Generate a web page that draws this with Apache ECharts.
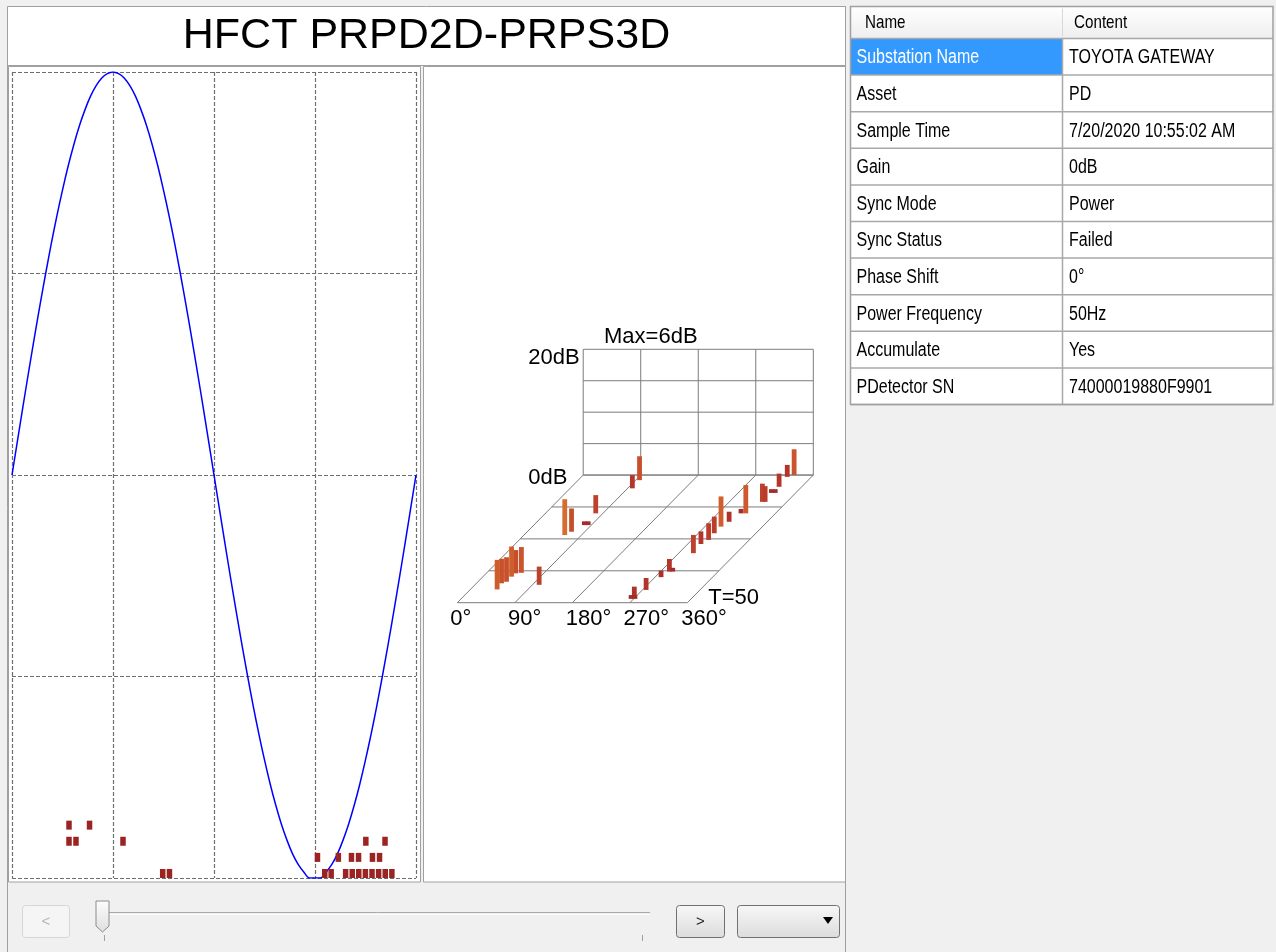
<!DOCTYPE html>
<html><head><meta charset="utf-8">
<script src="https://cdn.jsdelivr.net/npm/echarts@6.0.0/dist/echarts.min.js"></script>
<style>html,body{margin:0;padding:0;background:#f0f0f0;}#c{width:1276px;height:952px;}</style>
</head><body><div id="c"></div>
<script>
// ---------- data ----------
const PHASE_DEG = [0,5,10,15,20,25,30,35,40,45,50,55,60,65,70,75,80,85,90,95,100,105,110,115,120,125,130,135,140,145,150,155,160,165,170,175,180,
  185,190,195,200,205,210,215,220,225,230,235,240,245,250,255,260,265,270,275,280,285,290,295,300,305,310,315,320,325,330,335,340,345,350,355,360];
const SINE_REF = [0,0.087,0.174,0.259,0.342,0.423,0.5,0.574,0.643,0.707,0.766,0.819,0.866,0.906,0.940,0.966,0.985,0.996,1,
  0.996,0.985,0.966,0.940,0.906,0.866,0.819,0.766,0.707,0.643,0.574,0.5,0.423,0.342,0.259,0.174,0.087,0,
  -0.087,-0.174,-0.259,-0.342,-0.423,-0.5,-0.574,-0.643,-0.707,-0.766,-0.819,-0.866,-0.906,-0.940,-0.966,-0.985,-1,-1,
  -1,-0.985,-0.966,-0.940,-0.906,-0.866,-0.819,-0.766,-0.707,-0.643,-0.574,-0.5,-0.423,-0.342,-0.259,-0.174,-0.087,0];

// PRPD 2D pulses: phase (deg) and amplitude level
const PRPD_PHASE = [134.3,140.3,278.7,284.4,297.3,303.2,309.0,314.9,320.8,326.7,332.6,338.5,
  272.2,290.8,302.5,308.8,321.2,327.5,
  50.8,57.0,98.9,315.3,332.4,
  50.8,69.1];
const PRPD_LEVEL = [0,0,0,0,0,0,0,0,0,0,0,0,
  1,1,1,1,1,1,
  2,2,2,2,2,
  3,3];

// PRPS 3D pulses: phase (deg), cycle T, amplitude (dB)
const PRPS_PHASE = [41.8,39.3,44.7,44.7,46.3,54.2,100.5,63.7,69.2,78.7,79,85,97.4,96,
  266,272,268.7,275.7,279.4,283.8,289,293,290.6,296.3,294.9,295.2,300.4,313.5,306,321.7,326,322,328,324.6,322,330];
const PRPS_CYCLE = [44.8,42.4,41.8,39.8,38.5,38.3,43,23.5,22.2,15,19.6,19.6,5.2,2,
  48.5,48.5,47.9,45,40,37.8,37.8,30.6,27,25.4,22.8,20.2,18.3,15,15,10.5,10.5,7,7,4.6,0.7,0];
const PRPS_DB = [4.7,3.9,3.9,4.8,3.7,4.1,2.9,5.7,3.7,2.9,0.6,0.6,2.1,3.8,
  0.6,0.6,1.7,1.9,1.05,2.0,0.6,2.9,2.0,2.65,2.65,4.8,1.6,4.5,0.7,2.9,2.5,0.6,0.6,2.1,1.9,4.1];

const PHASE_TICKS = [0,90,180,270,360];
const CYCLE_TICKS = [0,12.5,25,37.5,50];
const DB_TICKS = [0,5,10,15,20];
const T_MAX = 50, DB_MAX = 20, PHASE_MAX = 360;

const TABLE_NAMES = ['Substation Name','Asset','Sample Time','Gain','Sync Mode','Sync Status','Phase Shift','Power Frequency','Accumulate','PDetector SN'];
const TABLE_CONTENTS = ['TOYOTA GATEWAY','PD','7/20/2020 10:55:02 AM','0dB','Power','Failed','0°','50Hz','Yes','74000019880F9901'];

// ---------- projection (oblique 3D) in axis units ----------
const DEPTH_X = 197;   // phase units shift for full depth
const DEPTH_Y = 20.3;  // dB units shift for full depth
function proj(api, phase, t, db) {
  const f = 1 - t / T_MAX;
  return api.coord([phase + f * DEPTH_X, db + f * DEPTH_Y]);
}
const LINE_STYLE = {stroke:'#7c7c7c', lineWidth:1};

const sineData = PHASE_DEG.map((p, i) => [p, SINE_REF[i]]);
const prpdData = PRPD_PHASE.map((p, i) => [p, PRPD_LEVEL[i]]);
const prpsData = PRPS_PHASE.map((p, i) => [p, PRPS_CYCLE[i], PRPS_DB[i]]).sort((a, b) => a[1] - b[1]);
const maxDb = Math.max.apply(null, PRPS_DB);

const FONT = '"Liberation Sans", Arial, sans-serif';

// ---------- graphic: frames, table, controls ----------
const g = [];
function rect(x, y, w, h, fill, stroke, z, extra) {
  g.push(Object.assign({type:'rect', z: z, silent:true, shape:{x:x, y:y, width:w, height:h}, style:{fill:fill, stroke:stroke || null, lineWidth:1}}, extra || {}));
}
function line(x1, y1, x2, y2, color, z, w) {
  g.push({type:'line', z:z, silent:true, shape:{x1:x1,y1:y1,x2:x2,y2:y2}, style:{stroke:color, lineWidth:w || 1}});
}
function text(str, x, y, size, color, align, z, sx) {
  g.push({type:'text', z:z, silent:true, x:x, y:y, scaleX: sx || 1,
    style:{text:str, x:0, y:0, fontSize:size, fontFamily:FONT, fill:color, align:align || 'left', verticalAlign:'middle', textAlign:align || 'left', textVerticalAlign:'middle'}});
}
// left panel frames
rect(7.5, 6.5, 838, 59, '#ffffff', '#a0a0a0', -5);
rect(8.5, 66.5, 412, 815.5, '#ffffff', '#a0a0a0', -5);
rect(423.5, 66.5, 422, 815.5, '#ffffff', '#a0a0a0', -5);
line(7.5, 65, 7.5, 952, '#a0a0a0', -4);
line(845.5, 6, 845.5, 952, '#a0a0a0', -4);

// table
const TX0 = 850.5, TX1 = 1062.5, TX2 = 1273, HY0 = 6.5, RY0 = 38.5, RH = 36.6;
const tableBottom = RY0 + RH * TABLE_NAMES.length;
g.push({type:'rect', z:5, silent:true, shape:{x:TX0, y:HY0, width:TX2-TX0, height:RY0-HY0},
  style:{fill:new echarts.graphic.LinearGradient(0,0,0,1,[{offset:0,color:'#ffffff'},{offset:1,color:'#eeeeee'}]), stroke:null}});
line(TX1, HY0+2, TX1, RY0-2, '#d8d8d8', 6);
text('Name', 865, 23, 19, '#000', 'left', 7, 0.8);
text('Content', 1074, 23, 19, '#000', 'left', 7, 0.8);
TABLE_NAMES.forEach((n, i) => {
  const y0 = RY0 + i * RH;
  rect(TX0, y0, TX1 - TX0, RH, i === 0 ? '#3399ff' : '#ffffff', null, 5);
  rect(TX1, y0, TX2 - TX1, RH, '#ffffff', null, 5);
  text(n, 856.5, y0 + RH / 2 + 1, 20, i === 0 ? '#ffffff' : '#000000', 'left', 7, 0.8);
  text(TABLE_CONTENTS[i], 1069, y0 + RH / 2 + 1, 20, '#000000', 'left', 7, 0.8);
  line(TX0, y0 + RH, TX2, y0 + RH, '#a8a8a8', 6, 1.5);
});
line(TX0, RY0, TX2, RY0, '#a8a8a8', 6, 1.5);
line(TX1, RY0, TX1, tableBottom, '#a8a8a8', 6, 1.5);
rect(TX0, HY0, TX2 - TX0, tableBottom - HY0, null, '#a0a0a0', 6, {style:{fill:null, stroke:'#a0a0a0', lineWidth:1.5}});

// bottom controls
rect(22.5, 905.5, 47, 32, '#f5f5f5', '#d6d6d6', 5, {shape:{x:22.5,y:905.5,width:47,height:32,r:3}});
text('<', 46, 921.5, 15, '#b4b4b4', 'center', 6);
line(105, 912.5, 650, 912.5, '#a9a9a9', 5);
line(105, 914.5, 650, 914.5, '#fbfbfb', 5);
line(104.5, 935, 104.5, 941, '#a0a0a0', 5);
line(642.5, 935, 642.5, 941, '#a0a0a0', 5);
g.push({type:'polygon', z:6, silent:true, shape:{points:[[96,901],[109,901],[109,926],[102.5,932],[96,926]]},
  style:{fill:new echarts.graphic.LinearGradient(0,0,0,1,[{offset:0,color:'#fdfdfd'},{offset:1,color:'#dedede'}]), stroke:'#8c8c8c', lineWidth:1}});
const btnGrad = () => new echarts.graphic.LinearGradient(0,0,0,1,[{offset:0,color:'#f7f7f7'},{offset:1,color:'#dcdcdc'}]);
g.push({type:'rect', z:5, silent:true, shape:{x:676.5,y:905.5,width:48,height:32,r:3}, style:{fill:btnGrad(), stroke:'#707070', lineWidth:1}});
text('>', 700.5, 921.5, 15, '#222', 'center', 6);
g.push({type:'rect', z:5, silent:true, shape:{x:737.5,y:905.5,width:102,height:32,r:3}, style:{fill:btnGrad(), stroke:'#707070', lineWidth:1}});
g.push({type:'polygon', z:6, silent:true, shape:{points:[[823,917],[833,917],[828,924]]}, style:{fill:'#000'}});

// ---------- chart ----------
const chart = echarts.init(document.getElementById('c'), null, {renderer:'canvas'});
const dashed = {show:true, lineStyle:{color:'#6e6e6e', width:1.2, type:[4,2]}};
const noAxis = {axisLine:{show:false}, axisTick:{show:false}, splitLine:{show:false}};

chart.setOption({
  animation:false,
  backgroundColor:'#f0f0f0',
  title:[
    {text:'HFCT PRPD2D-PRPS3D', left:426.5, top:14.5, textAlign:'center', padding:0,
      textStyle:{fontSize:43, fontWeight:'normal', color:'#000', fontFamily:FONT}},
    {text:'Max=' + Math.round(maxDb) + 'dB', left:650.8, top:326, textAlign:'center', padding:0,
      textStyle:{fontSize:22, fontWeight:'normal', color:'#000', fontFamily:FONT}},
    {text:'T=' + T_MAX, left:708.3, top:587, padding:0,
      textStyle:{fontSize:22, fontWeight:'normal', color:'#000', fontFamily:FONT}}
  ],
  graphic:{elements:g},
  grid:[
    {left:12, top:72, width:404, height:806},
    {left:457.3, top:349.3, width:356, height:253.4},
    {left:450.3, top:590, width:231, height:12.7},
    {left:583.3, top:358, width:229, height:120}
  ],
  xAxis:[
    Object.assign({gridIndex:0, type:'value', min:0, max:PHASE_MAX, interval:90, axisLabel:{show:false}}, noAxis, {splitLine:dashed}),
    {gridIndex:1, type:'value', min:0, max:PHASE_MAX + DEPTH_X, show:false},
    Object.assign({gridIndex:2, type:'value', min:0, max:PHASE_MAX, interval:90,
      axisLabel:{formatter:'{value}°', align:'left', margin:5, fontSize:22, color:'#000', fontFamily:FONT, hideOverlap:false, showMinLabel:true, showMaxLabel:true}}, noAxis),
    {gridIndex:3, type:'value', show:false}
  ],
  yAxis:[
    Object.assign({gridIndex:0, type:'value', min:-1, max:1, interval:0.5, axisLabel:{show:false}}, noAxis, {splitLine:dashed}),
    {gridIndex:0, type:'value', min:0, max:50, show:false},
    {gridIndex:1, type:'value', min:0, max:DB_MAX + DEPTH_Y, show:false},
    {gridIndex:2, type:'value', show:false},
    Object.assign({gridIndex:3, type:'value', min:0, max:DB_MAX, interval:20,
      axisLabel:{formatter:'{value}dB', align:'left', margin:55, fontSize:22, color:'#000', fontFamily:FONT, showMinLabel:true, showMaxLabel:true}}, noAxis)
  ],
  visualMap:{type:'continuous', show:false, seriesIndex:6, dimension:2, min:0, max:6,
    inRange:{color:['#9e2a2c','#b3352b','#c9522b','#d8702e']}},
  series:[
    {type:'line', name:'reference', xAxisIndex:0, yAxisIndex:0, data:sineData, showSymbol:false, smooth:0.3, clip:true,
      lineStyle:{color:'#0000ff', width:1.5}, z:3},
    {type:'scatter', name:'PRPD', xAxisIndex:0, yAxisIndex:1, data:prpdData, symbol:'rect', symbolSize:[5.5,9], symbolOffset:[0,-4.5],
      itemStyle:{color:'#9b2423', opacity:1}, z:4},
    {type:'custom', name:'floorPhase', xAxisIndex:1, yAxisIndex:2, data:PHASE_TICKS.map(v => [v, 0]), silent:true,
      renderItem:(p, api) => { const a = proj(api, api.value(0), 0, 0), b = proj(api, api.value(0), T_MAX, 0);
        return {type:'line', shape:{x1:a[0], y1:a[1], x2:b[0], y2:b[1]}, style:LINE_STYLE}; }},
    {type:'custom', name:'floorCycle', xAxisIndex:1, yAxisIndex:2, data:CYCLE_TICKS.map(v => [v, 0]), silent:true,
      renderItem:(p, api) => { const a = proj(api, 0, api.value(0), 0), b = proj(api, PHASE_MAX, api.value(0), 0);
        return {type:'line', shape:{x1:a[0], y1:a[1], x2:b[0], y2:b[1]}, style:LINE_STYLE}; }},
    {type:'custom', name:'wallPhase', xAxisIndex:1, yAxisIndex:2, data:PHASE_TICKS.map(v => [v, 0]), silent:true,
      renderItem:(p, api) => { const a = proj(api, api.value(0), 0, 0), b = proj(api, api.value(0), 0, DB_MAX);
        return {type:'line', shape:{x1:a[0], y1:a[1], x2:b[0], y2:b[1]}, style:LINE_STYLE}; }},
    {type:'custom', name:'wallDb', xAxisIndex:1, yAxisIndex:2, data:DB_TICKS.map(v => [v, 0]), silent:true,
      renderItem:(p, api) => { const a = proj(api, 0, 0, api.value(0)), b = proj(api, PHASE_MAX, 0, api.value(0));
        return {type:'line', shape:{x1:a[0], y1:a[1], x2:b[0], y2:b[1]}, style:LINE_STYLE}; }},
    {type:'custom', name:'PRPS', xAxisIndex:1, yAxisIndex:2, data:prpsData, z:5,
      encode:{x:0, y:2},
      renderItem:(p, api) => {
        const ph = api.value(0), t = api.value(1), db = api.value(2);
        const base = proj(api, ph, t, 0), top = proj(api, ph, t, db);
        return {type:'rect', shape:{x:base[0] - 2.4, y:top[1], width:4.8, height:Math.max(base[1] - top[1], 1)},
          style:{fill:api.visual('color')}};
      }}
  ]
});
</script></body></html>
